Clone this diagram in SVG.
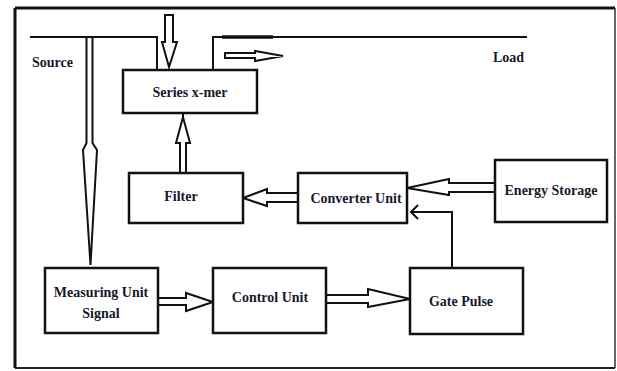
<svg xmlns="http://www.w3.org/2000/svg" width="617" height="371" viewBox="0 0 617 371">
  <style>
    .box { fill: #ffffff; stroke: #111111; stroke-width: 2.5; }
    .wire { fill: none; stroke: #111111; stroke-width: 2; }
    .harrow { fill: #ffffff; stroke: #111111; stroke-width: 2; stroke-linejoin: miter; }
    .lbl { font-family: "Liberation Serif", "Times New Roman", serif; font-weight: bold; font-size: 14px; fill: #17172e; }
    .mid { text-anchor: middle; }
  </style>
  <rect width="617" height="371" fill="#ffffff"/>

  <!-- outer frame -->
  <g id="frame">
    <line x1="15" y1="8" x2="615" y2="8" stroke="#111" stroke-width="3"/>
    <line x1="15" y1="8" x2="15" y2="368" stroke="#111" stroke-width="3"/>
    <line x1="15" y1="368" x2="615" y2="368" stroke="#222" stroke-width="2"/>
    <line x1="615" y1="8" x2="615" y2="368" stroke="#333" stroke-width="1.5"/>
  </g>

  <!-- connectors -->
  <g id="connectors">
    <!-- source side feeder into the series transformer -->
    <polyline class="wire" points="30,37 157,37 157,70"/>
    <!-- load side feeder -->
    <polyline class="wire" points="213,70 213,37 527,37"/>
    <line x1="222" y1="37" x2="273" y2="37" stroke="#111" stroke-width="3.5"/>

    <!-- injection arrow down into the transformer -->
    <polygon class="harrow" points="165,15 173,15 173,42 177,42 169,67 162,42 165,42"/>
    <!-- power flow to load -->
    <polygon class="harrow" points="225,53 255,53 255,51 283,56 255,61 255,58 225,58"/>

    <!-- sensing path from source to measuring unit -->
    <polygon class="harrow" points="86.5,37 92.5,37 92.5,143 97,150 90.5,265 83,150 86.5,143"/>

    <!-- measuring -> control -->
    <polygon class="harrow" points="158,298 186,298 186,293 213,302 186,311 186,305 158,305"/>
    <!-- control -> gate pulse -->
    <polygon class="harrow" points="326,295 368,295 368,289 410,299 368,307 368,303 326,303"/>

    <!-- gate pulse -> converter -->
    <polyline class="wire" points="452,268 452,212 411,212"/>
    <polyline class="wire" points="418,205 411,212 418,219"/>

    <!-- energy storage -> converter -->
    <polygon class="harrow" points="495,183 449,183 449,179 407,188 449,195 449,192 495,192"/>
    <!-- converter -> filter -->
    <polygon class="harrow" points="298,193 267,193 267,189 243,198 267,206 267,202 298,202"/>
    <!-- filter -> series transformer -->
    <polygon class="harrow" points="180,173 180,143 176,143 183,117 190,143 186,143 186,173"/>
    <line x1="183" y1="113" x2="183" y2="117" stroke="#111" stroke-width="2"/>
  </g>

  <g id="series-xmer">
    <rect class="box" x="123" y="70" width="134" height="43"/>
    <text class="lbl mid" x="190" y="97">Series x-mer</text>
  </g>

  <g id="filter">
    <rect class="box" x="129" y="173" width="114" height="50"/>
    <text class="lbl mid" x="181" y="201">Filter</text>
  </g>

  <g id="converter-unit">
    <rect class="box" x="298" y="173" width="109" height="50"/>
    <text class="lbl mid" x="356" y="203">Converter Unit</text>
  </g>

  <g id="energy-storage">
    <rect class="box" x="495" y="160" width="112" height="62"/>
    <text class="lbl mid" x="551" y="195">Energy Storage</text>
  </g>

  <g id="measuring-unit">
    <rect class="box" x="45" y="268" width="113" height="65"/>
    <text class="lbl mid" x="101" y="297">Measuring Unit</text>
    <text class="lbl mid" x="101" y="318">Signal</text>
  </g>

  <g id="control-unit">
    <rect class="box" x="213" y="268" width="113" height="65"/>
    <text class="lbl mid" x="270" y="302">Control Unit</text>
  </g>

  <g id="gate-pulse">
    <rect class="box" x="410" y="268" width="113" height="66"/>
    <text class="lbl mid" x="461" y="306">Gate Pulse</text>
  </g>

  <g id="terminals">
    <text class="lbl" x="32" y="67">Source</text>
    <text class="lbl" x="493" y="62">Load</text>
  </g>
</svg>
